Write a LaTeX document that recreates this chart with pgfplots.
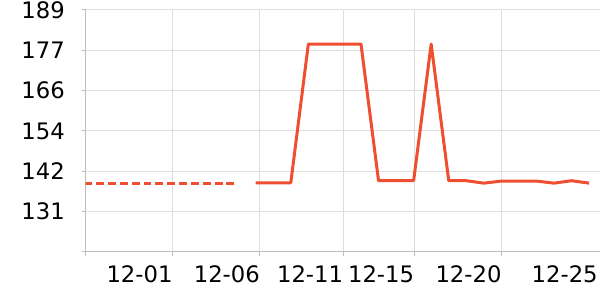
\documentclass[border=0pt]{standalone}
\usepackage{fontspec}
\setmainfont{DejaVu Sans}
\usepackage{pgfplots}
\pgfplotsset{compat=1.18}
\definecolor{lineC}{RGB}{240,78,48}
\definecolor{gridC}{RGB}{222,222,222}
\definecolor{axisC}{RGB}{190,190,190}
\begin{document}
\begin{tikzpicture}[x=1pt,y=1pt]
\begin{axis}[
  at={(85.7pt,48pt)}, anchor=south west,
  scale only axis, width=514.3pt, height=242pt,
  xmin=-9.687, xmax=19.62, ymin=119.4, ymax=189,
  axis lines=left,
  axis line style={draw=axisC, line width=1pt, -},
  tick align=outside,
  xtick pos=bottom, ytick pos=left,
  major tick length=4pt,
  tick style={draw=axisC, line width=1pt},
  grid style={draw=gridC, line width=1pt},
  xmajorgrids, ymajorgrids,
  xtick={-9.687,-4.729,0.245,4.991,9.037,14.017},
  xticklabels={,12-01,12-06,12-11,12-15,12-20},
  extra x ticks={19.5},
  extra x tick labels={12-25},
  extra x tick style={xmajorgrids=false, tick style={draw=none}},
  ytick={119.4,131,142.6,154.2,165.8,177.4,189},
  yticklabels={,131,142,154,166,177,189},
  every tick label/.append style={font=\fontsize{22.7}{27}\selectfont, text=black},
  xticklabel style={anchor=north east, inner sep=0pt, yshift=-9pt},
  yticklabel style={anchor=east, inner sep=0pt, xshift=-16.7pt},
]
\addplot[lineC, line width=3pt, dash pattern=on 7.9pt off 3.95pt, dash phase=7.8pt]
  coordinates {(-10,139.2) (-9,139.2) (-8,139.2) (-7,139.2) (-6,139.2) (-5,139.2) (-4,139.2) (-3,139.2) (-2,139.2) (-1,139.2)};
\addplot[lineC, line width=3pt, line join=round]
  coordinates {
  (0,139.3) (1,139.3) (2,139.3) (3,179.2) (4,179.2) (5,179.2) (6,179.2)
  (7,139.9) (8,139.9) (9,139.9) (10,179.2) (11,139.9) (12,139.9)
  (13,139.2) (14,139.8) (15,139.8) (16,139.8) (17,139.2) (18,139.9) (19,139.2)};
\end{axis}
\pgfresetboundingbox
\path[use as bounding box] (0,0) rectangle (600,300);
\end{tikzpicture}
\end{document}
